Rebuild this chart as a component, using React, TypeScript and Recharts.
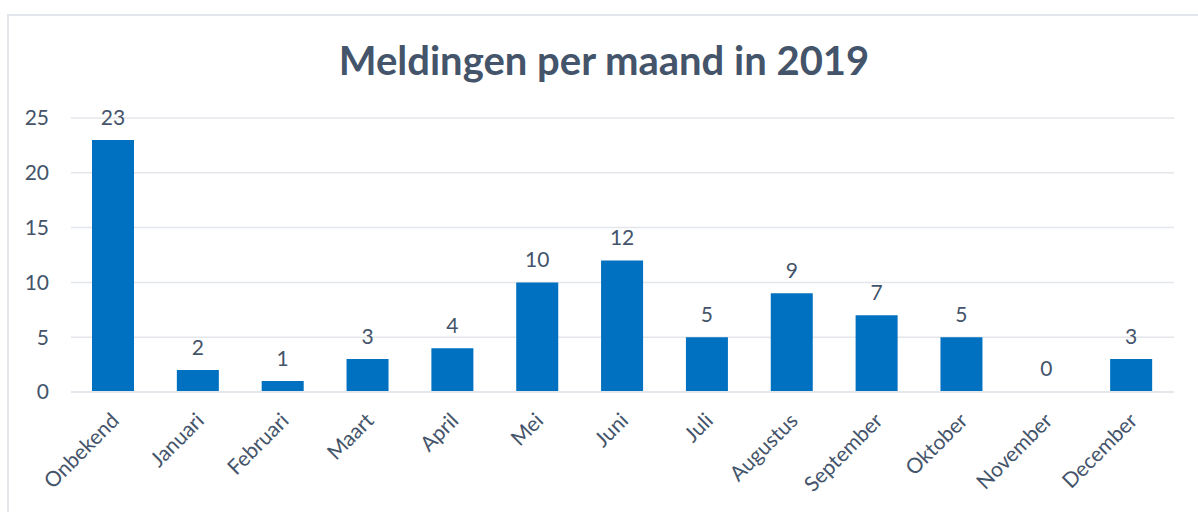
import { BarChart, Bar, Cell, XAxis, YAxis, CartesianGrid, LabelList } from "recharts"

const months = [
  "Onbekend", "Januari", "Februari", "Maart", "April", "Mei", "Juni",
  "Juli", "Augustus", "September", "Oktober", "November", "December",
]
const meldingen = [23, 2, 1, 3, 4, 10, 12, 5, 9, 7, 5, 0, 3]
const yTicks = [0, 5, 10, 15, 20, 25]

const data = months.map((m, i) => ({ maand: m, aantal: meldingen[i] }))

const FONT = "Lato, 'Open Sans', sans-serif"
const TEXT = "#44546A"
const BLUE = "#0070C0"

const MonthTick = (props: any) => {
  const { x, y, payload } = props
  const tx = x + 7
  const ty = y + 22
  return (
    <text
      x={tx}
      y={ty}
      transform={`rotate(-45 ${tx} ${ty})`}
      textAnchor="end"
      fill={TEXT}
      fontSize={21}
      fontFamily={FONT}
    >
      {payload.value}
    </text>
  )
}

// label above each bar, also for zero values
const ValueLabel = (props: any) => {
  const { x, y, width, value } = props
  return (
    <text x={x + width / 2} y={y - 15} textAnchor="middle" fill={TEXT} fontSize={21} fontFamily={FONT}>
      {value}
    </text>
  )
}

const App = () => {
  return (
    <div style={{ position: "absolute", left: 7, top: 14, width: 1200, height: 498, borderLeft: "2px solid #E3E6EA", borderTop: "2px solid #E3E6EA", background: "#fff", fontFamily: FONT }}>
      <div style={{ position: "absolute", left: 0, top: 20, width: 1190, textAlign: "center", fontSize: 40, fontWeight: 700, color: TEXT }}>
        Meldingen per maand in 2019
      </div>
      <BarChart
        width={1200}
        height={496}
        data={data}
        margin={{ top: 102, right: 35, left: 0, bottom: 0 }}
      >
        <CartesianGrid vertical={false} stroke="#E3E6EA" strokeWidth={1.5} />
        <XAxis
          dataKey="maand"
          interval={0}
          tickLine={false}
          axisLine={{ stroke: "#E3E6EA", strokeWidth: 2 }}
          height={120}
          tick={<MonthTick />}
        />
        <YAxis
          width={62}
          domain={[0, 25]}
          ticks={yTicks}
          tickLine={false}
          axisLine={false}
          tickMargin={16}
          tick={{ fill: TEXT, fontSize: 21, fontFamily: FONT }}
        />
        <Bar
          dataKey="aantal"
          fill={BLUE}
          barSize={42}
          minPointSize={(value: number) => (value === 0 ? 1 : 0)}
          isAnimationActive={false}
        >
          {data.map((d, i) => (
            <Cell key={`cell-${i}`} fill={d.aantal === 0 ? "transparent" : BLUE} />
          ))}
          <LabelList dataKey="aantal" content={<ValueLabel />} />
        </Bar>
      </BarChart>
    </div>
  )
}

export default App
